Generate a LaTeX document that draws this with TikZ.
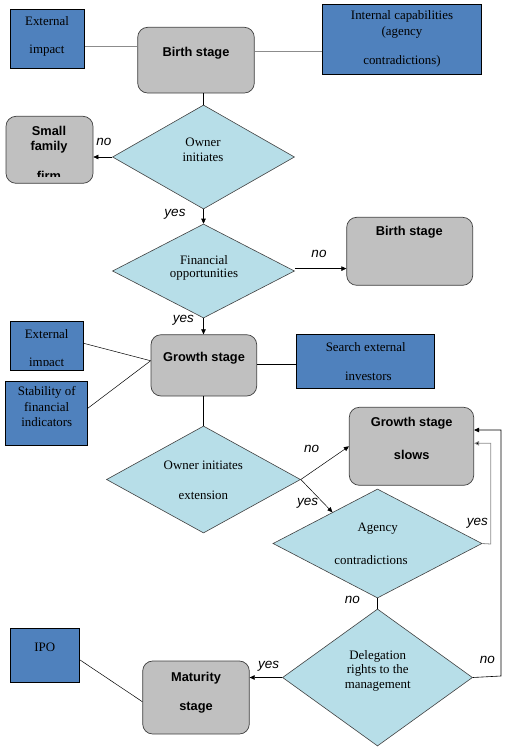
\documentclass[tikz,border=0pt]{standalone}
\usepackage{fontspec}
\setmainfont{Liberation Serif}
\newfontfamily\arialf{Liberation Sans}
\usetikzlibrary{shapes.geometric,arrows.meta,calc}
\definecolor{boxblue}{HTML}{4F81BD}
\definecolor{boxgray}{HTML}{C0C0C0}
\definecolor{dcyan}{HTML}{B7DEE8}
\definecolor{edgegray}{HTML}{404040}
\definecolor{linegray}{HTML}{8C8C8C}
\tikzset{
  bluebox/.style={draw=black, line width=0.8pt, fill=boxblue, inner sep=0pt},
  graybox/.style={draw=edgegray, line width=0.7pt, fill=boxgray, rounded corners=10pt, inner sep=0pt},
  dmd/.style={diamond, draw=edgegray, line width=0.6pt, fill=dcyan, inner sep=0pt},
  stxt/.style={font=\fontsize{12.9}{14}\selectfont, inner sep=0pt, align=center},
  btxt/.style={font=\arialf\bfseries\fontsize{12.8}{15}\selectfont, inner sep=0pt, align=center},
  ltxt/.style={font=\arialf\itshape\fontsize{13.5}{15}\selectfont, inner sep=0pt},
  conn/.style={line width=0.6pt, black},
  gconn/.style={line width=0.8pt, linegray},
  arr/.style={conn, -{Triangle[length=5pt,width=4.5pt]}},
  garr/.style={line width=0.8pt, linegray, -{Triangle[length=5pt,width=4.5pt, fill=black]}}
}
\newcommand{\boxat}[6]{\node[#1, minimum width=#4-#2, minimum height=#5-#3] (#6) at ({(#2+#4)/2},{(#3+#5)/2}) {};}
\begin{document}
\begin{tikzpicture}[x=1pt,y=-1pt]
\useasboundingbox (0,0) rectangle (508,750);
% boxes
\boxat{bluebox}{10.7}{9.3}{84.7}{68.3}{ext1}
\boxat{graybox}{137.7}{27.3}{254.3}{93}{birth1}
\boxat{bluebox}{322.3}{4.3}{481.7}{74.3}{internal}
\boxat{graybox}{6}{116.3}{93}{183.3}{small}
\boxat{graybox}{346.7}{217.3}{472.7}{285.3}{birth2}
\boxat{bluebox}{10.7}{321.3}{83.3}{370.3}{ext2}
\boxat{graybox}{151}{334.7}{256.7}{396}{growth}
\boxat{bluebox}{296.7}{334.3}{434.7}{388.3}{search}
\boxat{bluebox}{5.3}{381.3}{87.3}{445}{stab}
\boxat{graybox}{349.3}{407.3}{473.7}{485.3}{slows}
\boxat{bluebox}{10.7}{628.3}{79.7}{682.3}{ipo}
\boxat{graybox}{142.7}{661}{249.3}{734}{matur}
% diamonds
\node[dmd, minimum width=182, minimum height=104] (d1) at (203.5,157) {};
\node[dmd, minimum width=182, minimum height=94] (d2) at (203.5,271) {};
\node[dmd, minimum width=194, minimum height=107] (d3) at (203.5,479.5) {};
\node[dmd, minimum width=209, minimum height=109] (agency) at (377.5,543.5) {};
\node[dmd, minimum width=190, minimum height=137] (deleg) at (377.5,677.5) {};
% texts
\node[stxt] (t-ext1a) at (47,20.7) {External};
\node[stxt] (t-ext1b) at (47,51) {impact};
\node[btxt] (t-birth1) at (196,53.3) {Birth stage};
\node[stxt] (t-int1) at (402,16.7) {Internal capabilities};
\node[stxt] (t-int2) at (402,32.3) {(agency};
\node[stxt] (t-int3) at (402,61.7) {contradictions)};
\node[btxt] (t-small1) at (49,131) {Small};
\node[btxt] (t-small2) at (49,146.7) {family};
\begin{scope}
\clip (6,116.3) rectangle (93,176);
\node[btxt] (t-small3) at (49,176) {firm};
\end{scope}
\node[stxt] (t-d1a) at (203,142.7) {Owner};
\node[stxt] (t-d1b) at (203,157.7) {initiates};
\node[stxt] (t-d2a) at (204,260) {Financial};
\node[stxt] (t-d2b) at (204,275) {opportunities};
\node[btxt] (t-birth2) at (409.3,232.7) {Birth stage};
\node[stxt] (t-ext2a) at (46.7,334) {External};
\begin{scope}
\clip (10.7,321.3) rectangle (83.3,365.8);
\node[stxt] (t-ext2b) at (46.7,364) {impact};
\end{scope}
\node[btxt] (t-growth) at (204,358.3) {Growth stage};
\node[stxt] (t-search1) at (365.7,346.7) {Search external};
\node[stxt] (t-search2) at (368.3,376.7) {investors};
\node[stxt] (t-stab1) at (46.7,392.7) {Stability of};
\node[stxt] (t-stab2) at (46.7,407.3) {financial};
\node[stxt] (t-stab3) at (46.7,422.3) {indicators};
\node[btxt] (t-slows1) at (411.7,423.3) {Growth stage};
\node[btxt] (t-slows2) at (411.7,455) {slows};
\node[stxt] (t-d3a) at (203.3,465) {Owner initiates};
\node[stxt] (t-d3b) at (203.3,495) {extension};
\node[stxt] (t-ag1) at (377.7,529) {Agency};
\node[stxt] (t-ag2) at (371,560) {contradictions};
\node[stxt] (t-de1) at (377.7,656) {Delegation};
\node[stxt] (t-de2) at (377.7,670.5) {rights to the};
\node[stxt] (t-de3) at (377.7,686) {management};
\node[btxt] (t-mat1) at (196,677.7) {Maturity};
\node[btxt] (t-mat2) at (196,707.3) {stage};
\node[stxt] (t-ipo) at (44.7,647.7) {IPO};
% labels
\node[ltxt] (l1) at (104,141.7) {no};
\node[ltxt] (l2) at (175,214) {yes};
\node[ltxt] (l3) at (319,254.3) {no};
\node[ltxt] (l4) at (183.3,320) {yes};
\node[ltxt] (l5) at (311.7,449.3) {no};
\node[ltxt] (l6) at (307.7,503.3) {yes};
\node[ltxt] (l7) at (477.3,523.3) {yes};
\node[ltxt] (l8) at (352.3,600) {no};
\node[ltxt] (l9) at (487.3,660) {no};
\node[ltxt] (l10) at (268.7,666.7) {yes};
% connectors
\draw[gconn] ([yshift=-7.9pt]ext1.east) -- ([yshift=-7.9pt]ext1.east -| birth1.west);
\draw[gconn] ([yshift=8.3pt]birth1.east) -- ([yshift=8.3pt]birth1.east -| internal.west);
\draw[conn] (d1.north |- birth1.south) -- (d1.north);
\draw[arr] (d1.west) -- (small.east |- d1.west);
\draw[arr] (d1.south) -- (d2.north);
\draw[arr] ([yshift=2.4pt]d2.east) -- ([yshift=2.4pt]d2.east -| birth2.west);
\draw[arr] (d2.south) -- (d2.south |- growth.north);
\coordinate (gjoin) at ([yshift=4.6pt]growth.west);
\draw[conn, line width=0.5pt] ([yshift=2.5pt]ext2.east) -- (gjoin);
\draw[conn, line width=0.5pt] ([yshift=4.8pt]stab.east) -- (gjoin);
\draw[conn] ([yshift=0.6pt]growth.east) -- ([yshift=0.6pt]growth.east -| search.west);
\draw[conn] (d3.north |- growth.south) -- (d3.north);
\draw[arr, line width=0.5pt] (d3.east) -- (slows.west);
\draw[arr, line width=0.5pt] (d3.east) -- ($(agency.north)!0.43!(agency.west)$);
\coordinate (ag-r) at (490.7,544);
\draw[garr] (agency.east) -- (ag-r) -- (ag-r |- 0,443.3) -- ([yshift=3pt]slows.east);
\coordinate (de-r) at (501,676);
\draw[arr] (deleg.east) -- (de-r) -- (de-r |- 0,430) -- ([yshift=16.3pt]slows.east);
\draw[conn] (agency.south) -- (deleg.north);
\draw[arr] (deleg.west) -- (matur.east |- deleg.west);
\draw[conn, line width=0.5pt] ([yshift=-4.7pt]ipo.east) -- ([yshift=-4.2pt]matur.west);
\end{tikzpicture}
\end{document}
